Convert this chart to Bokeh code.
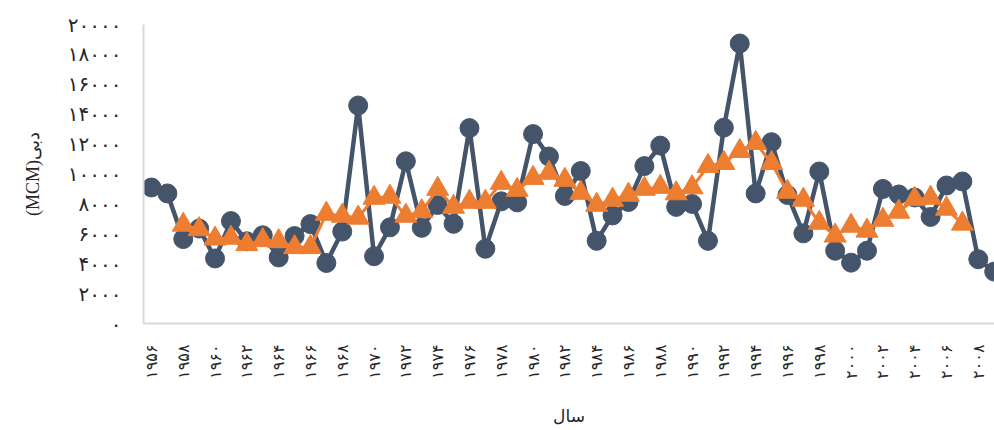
import math
from bokeh.plotting import figure
from bokeh.models import FixedTicker, Range1d, Title
from bokeh.embed import file_html
from bokeh.resources import INLINE

# ---- data ----
years = list(range(1956, 2010))
flow = [9100, 8700, 5650, 6350, 4350, 6850, 5500, 5900, 4420, 5850,
        6650, 4050, 6150, 14580, 4500, 6430, 10850, 6400, 7930, 6670,
        13070, 5000, 8170, 8100, 12670, 11170, 8530, 10200, 5530, 7230,
        8130, 10530, 11900, 7800, 8000, 5530, 13100, 18730, 8700, 12130,
        8600, 6030, 10170, 4870, 4070, 4870, 9000, 8630, 8430, 7130,
        9230, 9500, 4300, 3470]

ma_years = list(range(1958, 2008))
flow_ma = [6600, 6300, 5670, 5730, 5300, 5570, 5500, 5100, 5100, 7330,
           7200, 7070, 8400, 8470, 7200, 7500, 9000, 7800, 8130, 8130,
           9400, 8930, 9730, 10070, 9600, 8730, 7930, 8270, 8600, 9000,
           9130, 8700, 9100, 10530, 10730, 11530, 12070, 10730, 8800, 8270,
           6730, 5870, 6530, 6200, 6930, 7470, 8330, 8400, 7670, 6670]

x_ticks = [1956, 1958, 1960, 1962, 1964, 1966, 1968, 1970, 1972, 1974,
           1976, 1978, 1980, 1982, 1984, 1986, 1988, 1990, 1992, 1994,
           1996, 1998, 2000, 2002, 2004, 2006, 2008]
x_tick_labels = ["۱۹۵۶", "۱۹۵۸", "۱۹۶۰", "۱۹۶۲", "۱۹۶۴", "۱۹۶۶", "۱۹۶۸",
                 "۱۹۷۰", "۱۹۷۲", "۱۹۷۴", "۱۹۷۶", "۱۹۷۸", "۱۹۸۰", "۱۹۸۲",
                 "۱۹۸۴", "۱۹۸۶", "۱۹۸۸", "۱۹۹۰", "۱۹۹۲", "۱۹۹۴", "۱۹۹۶",
                 "۱۹۹۸", "۲۰۰۰", "۲۰۰۲", "۲۰۰۴", "۲۰۰۶", "۲۰۰۸"]

y_ticks = [0, 2000, 4000, 6000, 8000, 10000, 12000, 14000, 16000, 18000, 20000]
y_tick_labels = ["۰", "۲۰۰۰", "۴۰۰۰", "۶۰۰۰", "۸۰۰۰", "۱۰۰۰۰", "۱۲۰۰۰",
                 "۱۴۰۰۰", "۱۶۰۰۰", "۱۸۰۰۰", "۲۰۰۰۰"]

x_title = "سال"
y_title = "(MCM)دبی"

BLUE = "#44546A"
ORANGE = "#ED7D31"
TXT = "#262626"
AXIS = "#D9D9D9"

p = figure(width=994, height=430, output_backend="svg", toolbar_location=None,
           x_range=Range1d(1955.5, 2009.02), y_range=Range1d(0, 20000),
           min_border_left=143, min_border_right=0, min_border_top=24,
           min_border_bottom=107)
p.outline_line_color = None
p.grid.visible = False
p.background_fill_color = "white"

p.line(years, flow, line_color=BLUE, line_width=4.5)
p.scatter(years, flow, marker="circle", size=19, fill_color=BLUE, line_color=BLUE)
p.line(ma_years, flow_ma, line_color=ORANGE, line_width=3)
p.scatter(ma_years, flow_ma, marker="triangle", size=22, fill_color=ORANGE, line_color=ORANGE)

xa = p.xaxis[0]
xa.ticker = FixedTicker(ticks=x_ticks)
xa.major_label_overrides = {t: l for t, l in zip(x_ticks, x_tick_labels)}
xa.major_label_orientation = math.pi / 2
xa.major_label_text_font = "DejaVu Sans"
xa.major_label_text_font_size = "16px"
xa.major_label_text_color = TXT
xa.major_label_standoff = 15
xa.major_tick_line_color = None
xa.minor_tick_line_color = None
xa.axis_line_color = AXIS
xa.axis_line_width = 2
xa.axis_label = x_title
xa.axis_label_text_font = "DejaVu Sans"
xa.axis_label_text_font_style = "normal"
xa.axis_label_text_font_size = "17px"
xa.axis_label_text_color = TXT
xa.axis_label_standoff = 24

ya = p.yaxis[0]
ya.ticker = FixedTicker(ticks=y_ticks)
ya.major_label_overrides = {t: l for t, l in zip(y_ticks, y_tick_labels)}
ya.major_label_text_font = "DejaVu Sans"
ya.major_label_text_font_size = "20px"
ya.major_label_text_color = TXT
ya.major_tick_out = 0
ya.major_label_standoff = 22
ya.major_tick_line_color = None
ya.minor_tick_line_color = None
ya.axis_line_color = AXIS
ya.axis_line_width = 2

ytitle = Title(text=y_title, align="center", offset=-66, standoff=40,
               vertical_align="top",
               text_font="Liberation Serif", text_font_size="18px",
               text_font_style="normal", text_color=TXT)
p.add_layout(ytitle, "left")

open("out.html", "w").write(file_html(p, INLINE))
